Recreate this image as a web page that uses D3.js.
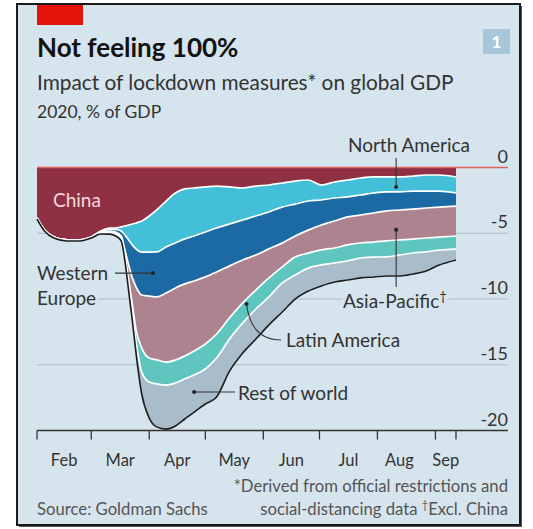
<!DOCTYPE html>
<html>
<head>
<script src="https://cdn.jsdelivr.net/npm/d3@7"></script>
<style>
  body { margin: 0; background: #fff; }
  text { font-family: Lato, "Open Sans", sans-serif; }
</style>
</head>
<body>
<svg width="533" height="529"></svg>
<script>
// dates the values were read at
var dates = ["2020-02-01","2020-02-05","2020-02-10","2020-02-17","2020-02-24","2020-03-01","2020-03-06",
  "2020-03-11","2020-03-14","2020-03-17","2020-03-19","2020-03-21","2020-03-23","2020-03-25","2020-03-28",
  "2020-04-01","2020-04-05","2020-04-10","2020-04-15","2020-04-20","2020-04-25","2020-05-01","2020-05-07",
  "2020-05-14","2020-05-21","2020-05-28","2020-06-04","2020-06-11","2020-06-18","2020-06-25","2020-07-02",
  "2020-07-09","2020-07-16","2020-07-23","2020-07-30","2020-08-06","2020-08-13","2020-08-20","2020-08-27",
  "2020-09-03","2020-09-12"];

// % of GDP, per region
var china = [-3.84,-4.75,-5.29,-5.51,-5.51,-5.29,-4.83,-4.60,-4.60,-4.52,-4.45,-4.37,-4.30,-4.22,-4.07,
  -3.69,-3.23,-2.55,-1.94,-1.63,-1.56,-1.48,-1.41,-1.48,-1.56,-1.41,-1.33,-1.18,-1.03,-0.95,-1.33,
  -1.10,-0.95,-0.80,-0.72,-0.72,-0.72,-0.65,-0.57,-0.57,-0.72];
var northAmerica = [0,0,0,0,0,0,-0.04,-0.08,-0.11,-0.30,-0.68,-1.14,-1.60,-1.98,-2.36,
  -2.74,-3.19,-3.50,-3.80,-3.80,-3.65,-3.42,-3.19,-2.81,-2.43,-2.28,-2.05,-1.83,-1.75,-1.60,-1.14,
  -1.22,-1.29,-1.29,-1.22,-1.14,-1.14,-1.14,-1.22,-1.22,-1.22];
var westernEurope = [0,0,0,0,0,0,-0.05,-0.15,-0.19,-0.38,-1.14,-1.90,-2.51,-2.89,-3.27,
  -3.35,-3.42,-3.50,-3.42,-3.42,-3.42,-3.42,-3.35,-3.19,-3.04,-2.97,-2.81,-2.74,-2.43,-2.21,-1.90,
  -1.75,-1.52,-1.52,-1.52,-1.44,-1.37,-1.37,-1.29,-1.22,-0.99];
var asiaPacific = [0,0,0,0,0,0,-0.03,-0.08,-0.11,-0.15,-0.38,-1.14,-2.05,-3.27,-4.03,
  -4.71,-4.79,-5.25,-5.48,-5.48,-5.32,-5.10,-4.71,-3.95,-3.27,-2.66,-2.21,-1.83,-1.60,-1.75,-1.90,
  -2.05,-2.13,-2.13,-2.21,-2.28,-2.28,-2.28,-2.28,-2.28,-2.28];
var latinAmerica = [0,0,0,0,0,0,-0.01,-0.04,-0.04,-0.08,-0.15,-0.46,-0.61,-0.91,-1.83,
  -1.83,-1.83,-1.75,-1.75,-1.75,-1.83,-1.90,-1.83,-1.60,-1.52,-1.44,-1.44,-1.22,-1.37,-1.14,-1.14,
  -1.14,-1.22,-1.14,-1.14,-1.22,-1.14,-1.06,-1.06,-0.99,-0.99];
var restOfWorld = [0,0,0,0,0,0,-0.02,-0.04,-0.08,-0.08,-0.23,-0.30,-0.53,-0.84,-1.60,
  -2.66,-3.19,-3.27,-3.19,-2.97,-2.74,-2.59,-2.89,-2.36,-2.21,-2.21,-2.05,-2.13,-1.75,-1.67,-1.52,
  -1.37,-1.37,-1.44,-1.44,-1.37,-1.52,-1.52,-1.37,-1.06,-0.76];

var yTicks = [0, -5, -10, -15, -20];
var monthLabels = ["Feb","Mar","Apr","May","Jun","Jul","Aug","Sep"];
var monthStarts = ["2020-02-01","2020-03-01","2020-04-01","2020-05-01","2020-06-01","2020-07-01","2020-08-01","2020-09-01","2020-09-12"];

var keys = ["China","North America","Western Europe","Asia-Pacific","Latin America","Rest of world"];
var colors = ["#8f3142","#43c0d8","#1b6aa3","#ad8390","#5ec6bf","#a9bcc9"];
var seriesVals = [china, northAmerica, westernEurope, asiaPacific, latinAmerica, restOfWorld];

var parse = d3.timeParse("%Y-%m-%d");
var rows = dates.map(function (d, i) {
  var r = { date: parse(d) };
  keys.forEach(function (k, j) { r[k] = seriesVals[j][i]; });
  return r;
});

var bg = "#d5e4ed";
var svg = d3.select("svg");

// panel
svg.append("rect").attr("x", 19).attr("y", 6).attr("width", 503).attr("height", 521).attr("fill", "#555");
svg.append("rect").attr("x", 17).attr("y", 4).attr("width", 503).attr("height", 521)
  .attr("fill", bg).attr("stroke", "#1a1a1a").attr("stroke-width", 2);
svg.append("rect").attr("x", 37).attr("y", 5).attr("width", 46).attr("height", 20).attr("fill", "#e3120b");

svg.append("text").attr("x", 37).attr("y", 57).attr("font-size", 26).attr("font-weight", 700)
  .attr("fill", "#121212").text("Not feeling 100%");
svg.append("text").attr("x", 37).attr("y", 90).attr("font-size", 20.8).attr("fill", "#333")
  .text("Impact of lockdown measures* on global GDP");
svg.append("text").attr("x", 37).attr("y", 118).attr("font-size", 17.5).attr("fill", "#333")
  .text("2020, % of GDP");
svg.append("rect").attr("x", 483).attr("y", 29).attr("width", 27).attr("height", 25).attr("fill", "#a8c7da");
svg.append("text").attr("x", 496.5).attr("y", 48).attr("text-anchor", "middle").attr("font-size", 17)
  .attr("font-weight", 700).attr("fill", "#fff").text("1");

var x = d3.scaleTime().domain([parse("2020-02-01"), parse("2020-09-12")]).range([37, 456]);
var y = d3.scaleLinear().domain([-20, 0]).range([430.5, 167.5]);

// gridlines
svg.append("g").selectAll("line").data(yTicks.filter(function (t) { return t < 0 && t > -20; }))
  .join("line").attr("x1", 37).attr("x2", 508).attr("y1", y).attr("y2", y)
  .attr("stroke", "#a9bccb").attr("stroke-width", 1);

var stack = d3.stack().keys(keys).offset(d3.stackOffsetNone);
var layers = stack(rows);

var area = d3.area().x(function (d) { return x(d.data.date); })
  .y0(function (d) { return y(d[0]); }).y1(function (d) { return y(d[1]); })
  .curve(d3.curveMonotoneX);
var edge = d3.line().x(function (d) { return x(d.data.date); })
  .y(function (d) { return y(d[1]); }).curve(d3.curveMonotoneX);

svg.append("g").selectAll("path").data(layers).join("path")
  .attr("d", area).attr("fill", function (d, i) { return colors[i]; });
svg.append("g").selectAll("path").data(layers.slice(0, 5)).join("path")
  .attr("d", edge).attr("fill", "none").attr("stroke", "#fff").attr("stroke-width", 1.7);
svg.append("path").datum(layers[5]).attr("d", edge).attr("fill", "none")
  .attr("stroke", "#1c1c1c").attr("stroke-width", 1.6).attr("transform", "translate(0,1)");

// zero line and axis
svg.append("line").attr("x1", 37).attr("x2", 508).attr("y1", y(0)).attr("y2", y(0))
  .attr("stroke", "#e0605c").attr("stroke-width", 1.5);
svg.append("line").attr("x1", 37).attr("x2", 508).attr("y1", y(-20)).attr("y2", y(-20))
  .attr("stroke", "#333").attr("stroke-width", 1.3);

svg.append("g").selectAll("text").data(yTicks).join("text")
  .attr("x", 508).attr("y", function (d) { return y(d) - 5; }).attr("text-anchor", "end")
  .attr("font-size", 18).attr("fill", "#333").text(function (d) { return d; });

var ticks = monthStarts.map(parse);
svg.append("g").selectAll("line").data(ticks).join("line")
  .attr("x1", x).attr("x2", x).attr("y1", y(-20)).attr("y2", y(-20) + 9)
  .attr("stroke", "#333").attr("stroke-width", 1.3);
svg.append("g").selectAll("text").data(monthLabels).join("text")
  .attr("x", function (d, i) {
    var m = (x(ticks[i]) + x(ticks[i + 1])) / 2;
    return d === "Aug" ? m - 7 : m;
  })
  .attr("y", 466).attr("text-anchor", "middle").attr("font-size", 16.5).attr("fill", "#333")
  .text(function (d) { return d; });

// labels
function label(txt, lx, ly, anchor, fill, halo) {
  var t = svg.append("text").attr("x", lx).attr("y", ly).attr("font-size", 19)
    .attr("text-anchor", anchor || "start").attr("fill", fill || "#333").text(txt);
  if (halo) t.attr("stroke", bg).attr("stroke-width", 7).attr("paint-order", "stroke");
  return t;
}
function dot(cx, cy) {
  svg.append("circle").attr("cx", cx).attr("cy", cy).attr("r", 2).attr("fill", "#222");
}
function lead(pts) {
  svg.append("path").attr("d", d3.line()(pts)).attr("fill", "none").attr("stroke", "#333").attr("stroke-width", 1.1);
}

label("China", 53, 207, "start", "#f5d9dc");

var naX = x(parse("2020-08-11"));
lead([[naX, 158], [naX, y(-1.48)]]); dot(naX, y(-1.48));
label("North America", 470, 152, "end");

var weX = x(parse("2020-04-03"));
lead([[115, y(-8.03)], [weX, y(-8.03)]]); dot(weX, y(-8.03));
label("Western", 37, 280, "start", null, true);
label("Europe", 37, 305, "start", null, true);

lead([[naX, y(-4.74)], [naX, 287]]); dot(naX, y(-4.74));
var ap = label("Asia-Pacific", 343, 308, "start", null, true);
ap.append("tspan").attr("dy", -7).attr("font-size", 13).text("\u2020");

var laX = x(parse("2020-05-23")), laY = y(-10.38);
svg.append("path").attr("d", "M" + laX + "," + laY + " C" + (laX + 3) + "," + (laY + 24) + " " + (laX + 15) + "," + 340 + " " + 281 + "," + 340)
  .attr("fill", "none").attr("stroke", "#333").attr("stroke-width", 1.1);
dot(laX, laY);
label("Latin America", 286, 347, "start", null, true);

var rwX = x(parse("2020-04-25")), rwY = y(-17.07);
lead([[rwX, rwY], [235, rwY]]); dot(rwX, rwY);
label("Rest of world", 238, 400, "start", null, true);

// footer
svg.append("text").attr("x", 37).attr("y", 515).attr("font-size", 16.7).attr("fill", "#555").text("Source: Goldman Sachs");
svg.append("text").attr("x", 508).attr("y", 492).attr("text-anchor", "end").attr("font-size", 16.7).attr("fill", "#555")
  .text("*Derived from official restrictions and");
var f2 = svg.append("text").attr("x", 508).attr("y", 515).attr("text-anchor", "end").attr("font-size", 16.7).attr("fill", "#555")
  .text("social-distancing data   ");
f2.append("tspan").attr("dy", -6).attr("font-size", 11).text("\u2020");
f2.append("tspan").attr("dy", 6).text("Excl. China");
</script>
</body>
</html>
